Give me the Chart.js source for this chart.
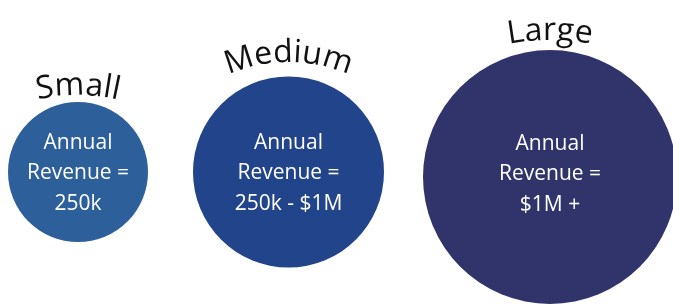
<!DOCTYPE html>
<html><head><meta charset="utf-8">
<script src="https://cdn.jsdelivr.net/npm/chart.js@4/dist/chart.umd.min.js"></script>
<style>html,body{margin:0;padding:0;background:#fff;}canvas{display:block;}</style>
</head><body>
<canvas id="c" width="673" height="305"></canvas>
<script>
const categories = ["Small", "Medium", "Large"];
const revenueLines = [
  ["Annual", "Revenue =", "250k"],
  ["Annual", "Revenue =", "250k - $1M"],
  ["Annual", "Revenue =", "$1M +"]
];
const xValues = [78, 288.5, 550];
const yValues = [172, 172, 177];
const radii = [70, 95.5, 127];
const colors = ["#2D5F9A", "#22448B", "#30346B"];

function arcText(ctx, text, cx, baseY, R) {
  const ccx = cx, ccy = baseY + R;
  let total = 0;
  const ws = [...text].map(ch => { const w = ctx.measureText(ch).width; total += w; return w; });
  let ang = -Math.PI / 2 - (total / R) / 2;
  [...text].forEach((ch, i) => {
    const a = ang + (ws[i] / R) / 2;
    ctx.save();
    ctx.translate(ccx + R * Math.cos(a), ccy + R * Math.sin(a));
    ctx.rotate(a + Math.PI / 2);
    ctx.fillText(ch, 0, 0);
    ctx.restore();
    ang += ws[i] / R;
  });
}

const titleArc = [
  {dy: -77, R: 180, size: 32},
  {dy: -110, R: 150, size: 32},
  {dy: -137, R: 220, size: 32}
];

const labelsPlugin = {
  id: 'labels',
  afterDatasetsDraw(chart) {
    const ctx = chart.ctx;
    const meta = chart.getDatasetMeta(0);
    meta.data.forEach((el, i) => {
      const {x, y} = el.getProps(['x', 'y'], true);
      ctx.save();
      ctx.fillStyle = '#ffffff';
      ctx.font = '21px "Open Sans"';
      ctx.textAlign = 'center';
      ctx.textBaseline = 'middle';
      const lines = revenueLines[i];
      const top = y - (i === 2 ? 33 : 29);
      lines.forEach((l, k) => ctx.fillText(l, x, top + k * 30.5));
      ctx.fillStyle = '#111111';
      ctx.font = titleArc[i].size + 'px "Open Sans"';
      ctx.textAlign = 'center';
      ctx.textBaseline = 'alphabetic';
      arcText(ctx, categories[i], x, y + titleArc[i].dy, titleArc[i].R);
      ctx.restore();
    });
  }
};

new Chart(document.getElementById('c'), {
  type: 'bubble',
  data: {
    labels: categories,
    datasets: [{
      data: categories.map((c, i) => ({x: xValues[i], y: yValues[i], r: radii[i]})),
      backgroundColor: colors,
      borderWidth: 0,
      hoverBorderWidth: 0,
      clip: false
    }]
  },
  options: {
    responsive: false,
    animation: false,
    events: [],
    layout: {padding: 0, autoPadding: false},
    plugins: {legend: {display: false}, tooltip: {enabled: false}},
    scales: {
      x: {type: 'linear', min: 0, max: 673, display: false},
      y: {type: 'linear', min: 0, max: 305, reverse: true, display: false}
    }
  },
  plugins: [labelsPlugin]
});
</script>
</body></html>
